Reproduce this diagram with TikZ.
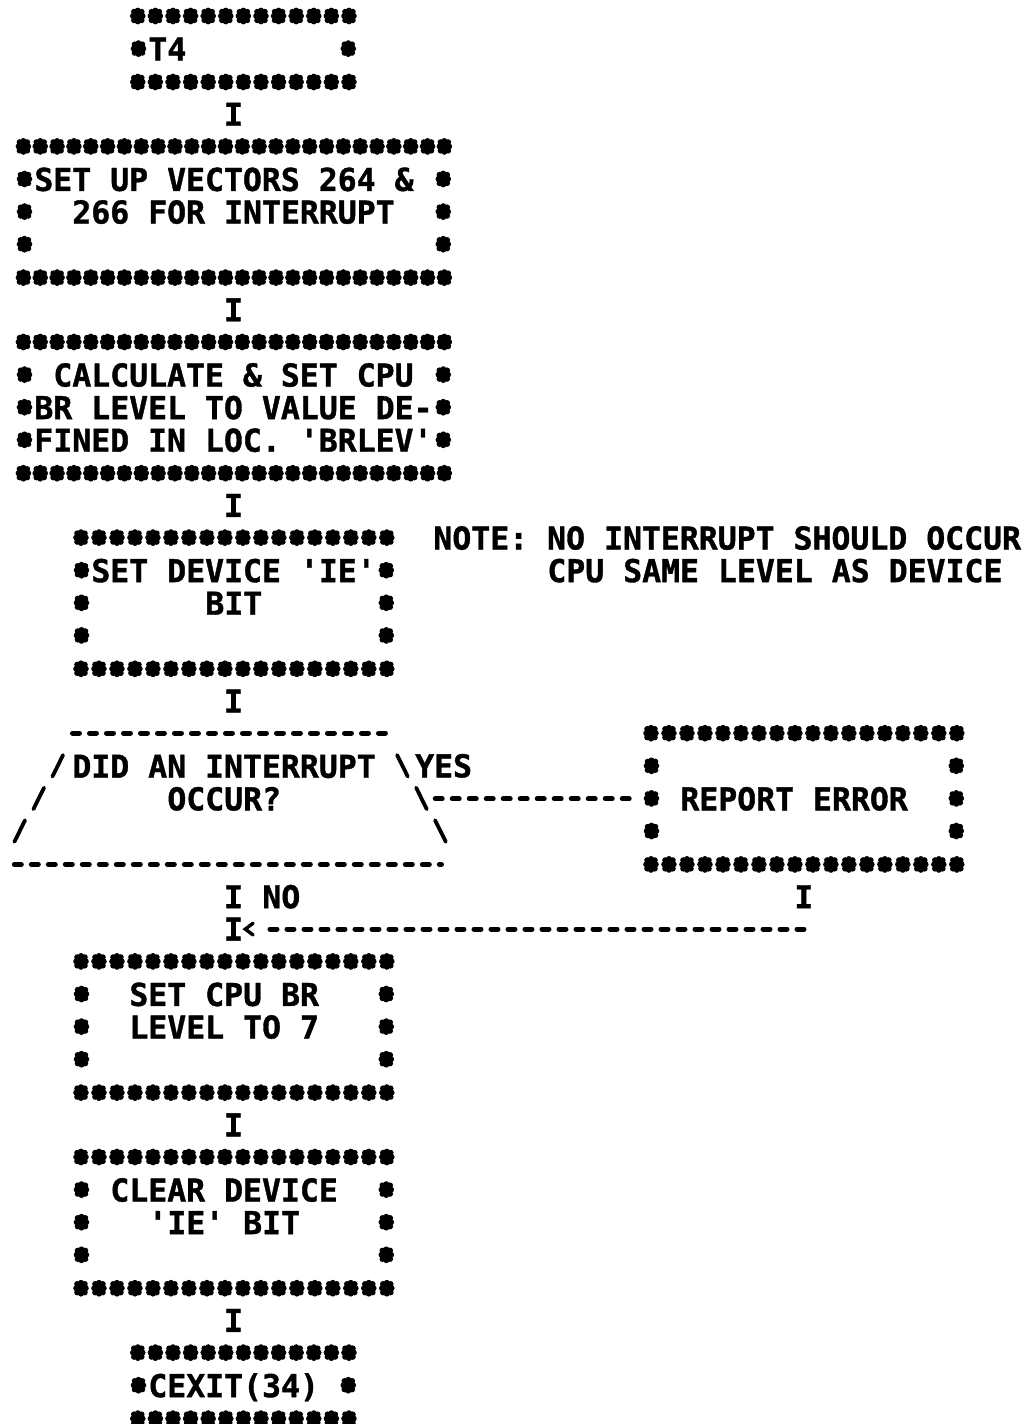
\documentclass[tikz,border=0pt]{standalone}
\usepackage{fontspec}
\setmonofont{DejaVu Sans Mono}[BoldFeatures={FakeBold=1.2}]
\usepackage{tikz}
\usetikzlibrary{calc}

\newlength{\cw}
\setlength{\cw}{9.5pt}
\newcommand{\plotfont}{\ttfamily\bfseries\fontsize{15.74pt}{16.3pt}\selectfont\frenchspacing}
% every line: full row height, and a space as wide as a letter
\newcommand{\rowstrut}{\spaceskip=\cw\xspaceskip=\cw\rule[-2.4pt]{0pt}{16.3pt}}
\newcommand{\pad}[1]{\hspace*{#1\cw}}
% star frame round a text node: name, stars per long edge, inner rows
\newcommand{\astbox}[3]{%
  \coordinate (#1-tl) at ($(#1.north west)+(-1,-0.5)$);
  \coordinate (#1-tr) at ($(#1.north east)+(1,-0.5)$);
  \coordinate (#1-bl) at ($(#1.south west)+(-1,0.5)$);
  \coordinate (#1-br) at ($(#1.south east)+(1,0.5)$);
  \foreach \i in {1,...,#2}{
    \pic at ($(#1-tl)!{(\i-0.5)/#2}!(#1-tr)$) {ast};
    \pic at ($(#1-bl)!{(\i-0.5)/#2}!(#1-br)$) {ast};
  }
  \foreach \k in {1,...,#3}{
    \pic at ($(#1.north west)+(-0.5,\k-0.5)$) {ast};
    \pic at ($(#1.north east)+(0.5,\k-0.5)$) {ast};
  }
}

\begin{document}
\begin{tikzpicture}[x=9.5pt, y=-16.3pt, line cap=round,
  txt/.style={font=\plotfont, inner sep=0pt},
  glyph/.style={txt, text height=13.9pt, text depth=2.4pt},
  boxtext/.style={txt, align=left, anchor=north west},
  dashline/.style={line width=2.6pt, dash pattern=on 3.4pt off 5.1pt},
  slantbar/.style={line width=1.9pt},
  ast/.pic={\draw[line width=3pt] (-2.4pt,0pt) -- (2.4pt,0pt) (0pt,-2.7pt) -- (0pt,2.7pt)
    (-1.9pt,-2.1pt) -- (1.9pt,2.1pt) (-1.9pt,2.1pt) -- (1.9pt,-2.1pt);}]
  % one unit = one character cell: x in columns, y in rows (downwards)
  \useasboundingbox (-0.789,-0.491) rectangle (53.158,43.19);
  \coordinate (trunk) at (11.5,0);

  % text areas of the boxes
  \node[boxtext, text width=10\cw] (t4) at (7,0.5) {\rowstrut T4};
  \node[boxtext, text width=21\cw] (vec) at (1,4.5)
    {\rowstrut SET UP VECTORS 264 \&\\
     \rowstrut\pad{2}266 FOR INTERRUPT\\
     \rowstrut};
  \node[boxtext, text width=21\cw] (brlev) at (1,10.5)
    {\rowstrut\pad{1}CALCULATE \& SET CPU\\
     \rowstrut BR LEVEL TO VALUE DE-\\
     \rowstrut FINED IN LOC. 'BRLEV'};
  \node[boxtext, text width=15\cw] (iebit) at (4,16.5)
    {\rowstrut SET DEVICE 'IE'\\
     \rowstrut\pad{6}BIT\\
     \rowstrut};
  \node[boxtext, text width=16\cw] (dec) at (3,22.5)
    {\rowstrut DID AN INTERRUPT\\
     \rowstrut\pad{5}OCCUR?\\
     \rowstrut};
  \node[boxtext, text width=15\cw] (err) at (34,22.5)
    {\rowstrut\\
     \rowstrut\pad{1}REPORT ERROR\\
     \rowstrut};
  \node[boxtext, text width=15\cw] (br7) at (4,29.5)
    {\rowstrut\pad{2}SET CPU BR\\
     \rowstrut\pad{2}LEVEL TO 7\\
     \rowstrut};
  \node[boxtext, text width=15\cw] (clrie) at (4,35.5)
    {\rowstrut\pad{1}CLEAR DEVICE\\
     \rowstrut\pad{3}'IE' BIT\\
     \rowstrut};
  \node[boxtext, text width=10\cw] (cexit) at (7,41.5) {\rowstrut CEXIT(34)};

  % note beside the device box
  \node[boxtext, text width=31\cw] (note) at (22,15.5)
    {\rowstrut NOTE: NO INTERRUPT SHOULD OCCUR\\
     \rowstrut\pad{6}CPU SAME LEVEL AS DEVICE};

  % star frames
  \astbox{t4}{13}{1}
  \astbox{vec}{26}{3}
  \astbox{brlev}{26}{3}
  \astbox{iebit}{18}{3}
  \astbox{err}{18}{3}
  \astbox{br7}{18}{3}
  \astbox{clrie}{18}{3}
  \astbox{cexit}{13}{1}

  % decision outline: dashed top and bottom, slanted sides
  \draw[dashline] ($(dec.north west)+(0.03,-0.5)$) -- ($(dec.north east)+(0.45,-0.5)$);
  \draw[dashline] ($(dec.south west)+(-3.03,0.5)$) -- ($(dec.south east)+(3.4,0.5)$);
  \foreach \k in {1,2,3}{
    \draw[slantbar] ($(dec.north west)+(-\k+0.25-0.28,\k-0.5+0.33)$) -- ++(0.56,-0.66);
    \draw[slantbar] ($(dec.north east)+(\k+0.35-0.28,\k-0.5-0.33)$) -- ++(0.56,0.66);
  }

  % main line
  \path (t4.south -| trunk) -- node[glyph] (i1) {I} (vec.north -| trunk);
  \path (vec.south -| trunk) -- node[glyph] (i2) {I} (brlev.north -| trunk);
  \path (brlev.south -| trunk) -- node[glyph] (i3) {I} (iebit.north -| trunk);
  \path (iebit.south -| trunk) -- node[glyph] (i4) {I} (dec.north -| trunk);
  \path (dec.south -| trunk) -- node[glyph, pos=0.375] (i5) {I}
    node[glyph, pos=0.625] (join) {I} (br7.north -| trunk);
  \path (br7.south -| trunk) -- node[glyph] (i6) {I} (clrie.north -| trunk);
  \path (clrie.south -| trunk) -- node[glyph] (i7) {I} (cexit.north -| trunk);
  \node[glyph, anchor=west] (no) at ($(i5)+(1.5,0)$) {NO};

  % yes branch and its way back
  \node[glyph, anchor=west] (yes) at ($(dec.north east)+(2,0.5)$) {YES};
  \draw[dashline] ($(dec.east)+(3.08,0)$) -- ($(err.west)+(-1.4,0)$);
  \path (err.south) -- node[glyph, pos=0.6] (i8) {I} (err.south |- join);
  \draw[dashline] (err.south |- join) -- ($(join)+(1.42,0)$);
  \draw[line width=1.7pt] ($(join)+(1.03,-0.18)$) -- ($(join)+(0.62,0)$)
    -- ($(join)+(1.03,0.18)$);
\end{tikzpicture}
\end{document}
